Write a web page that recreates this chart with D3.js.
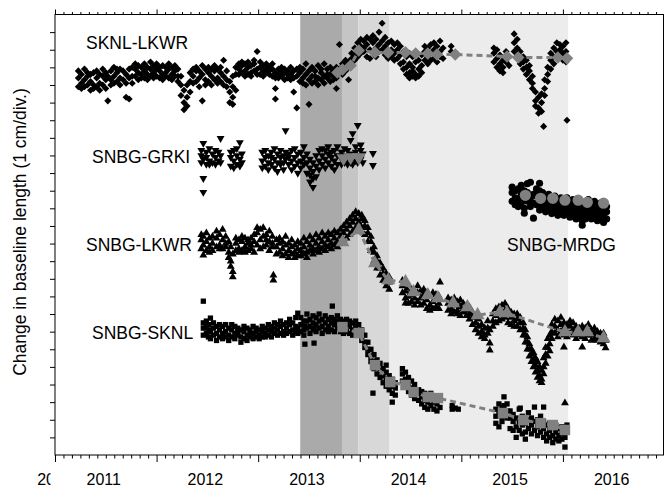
<!DOCTYPE html>
<html>
<head>
<meta charset="utf-8">
<script src="https://cdn.jsdelivr.net/npm/d3@7"></script>
<style>
  body { margin: 0; background: #fff; }
  text { font-family: "Liberation Sans", Arial, Helvetica, sans-serif; }
</style>
</head>
<body>
<script>
// baseline changes, rows are [decimal year, value(s) in cm ...]
var sknlLkwr = [
  [2011.23, 21.4, 20.9, 21.8], [2011.26, 21.6, 21.1, 20.8], [2011.29, 21.9, 21.3, 20.9], [2011.32, 21.5, 21.0, 21.7],
  [2011.35, 21.2, 20.7, 21.6], [2011.38, 21.7, 21.0, 20.8], [2011.41, 21.4, 20.9, 21.8], [2011.44, 21.1, 21.6, 20.7],
  [2011.47, 21.5, 21.0, 21.9], [2011.50, 21.3, 20.8, 21.7], [2011.52, 20.1, 21.5],
  [2011.55, 21.8, 21.3, 21.0], [2011.58, 22.0, 21.5, 21.1], [2011.61, 21.7, 21.2, 21.9], [2011.64, 21.4, 21.9, 21.0],
  [2011.67, 21.8, 21.3], [2011.70, 21.6, 21.1, 20.3], [2011.73, 21.9, 21.4, 20.2], [2011.76, 21.5, 22.0, 21.1],
  [2011.79, 21.9, 21.5, 22.2], [2011.82, 21.7, 22.1, 21.3], [2011.85, 22.0, 21.6, 21.4], [2011.88, 21.8, 22.2, 21.4],
  [2011.91, 21.6, 22.0, 21.3], [2011.94, 21.9, 21.5, 22.3], [2011.97, 21.7, 22.1, 21.4], [2012.00, 21.5, 21.9, 22.2],
  [2012.03, 21.8, 21.4, 22.0], [2012.06, 22.1, 21.6, 21.3], [2012.09, 21.7, 22.0, 21.5], [2012.12, 21.9, 21.4, 22.2],
  [2012.15, 21.6, 22.0, 21.3], [2012.18, 21.8, 21.5, 22.1], [2012.21, 21.5, 21.9, 21.2],
  [2012.24, 21.0, 20.4, 21.5], [2012.27, 20.7, 20.0, 19.6], [2012.30, 20.3, 19.8, 21.0], [2012.33, 21.2, 20.6, 21.7],
  [2012.36, 21.5, 21.9, 21.1], [2012.39, 21.8, 21.2, 22.0], [2012.42, 21.4, 21.8, 20.9], [2012.45, 21.6, 22.1, 20.1],
  [2012.48, 21.3, 21.9, 21.0], [2012.51, 21.7, 21.2, 22.0], [2012.54, 21.5, 21.0, 21.9], [2012.57, 21.8, 21.3, 22.1],
  [2012.60, 21.4, 21.9, 21.1], [2012.63, 21.7, 22.0, 21.2], [2012.66, 22.4, 21.5, 21.0], [2012.69, 21.8, 21.3, 20.9],
  [2012.72, 21.2, 20.6, 20.0], [2012.75, 20.9, 20.3, 19.9, 21.5], [2012.78, 21.6, 20.7, 22.0],
  [2012.81, 21.9, 22.2, 21.6], [2012.84, 22.1, 21.7, 22.3], [2012.87, 21.8, 22.2, 21.5], [2012.90, 22.0, 21.6, 22.3],
  [2012.93, 21.7, 22.1, 21.5], [2012.96, 22.2, 21.8, 22.4], [2012.99, 22.9, 21.9, 21.6], [2013.02, 22.0, 21.6, 22.3],
  [2013.05, 21.8, 22.1, 21.5], [2013.08, 22.2, 21.7, 21.9], [2013.11, 21.6, 22.0, 21.8], [2013.14, 21.9, 21.5, 22.2],
  [2013.17, 21.7, 20.8, 20.2, 21.4], [2013.20, 21.9, 21.4, 21.6], [2013.23, 21.5, 21.8, 22.0], [2013.26, 21.7, 21.3, 21.9],
  [2013.29, 21.4, 21.8, 21.6], [2013.32, 21.6, 22.0, 21.3], [2013.35, 21.8, 21.4, 20.6], [2013.38, 21.5, 21.9, 19.7],
  [2013.41, 21.7, 21.2, 22.0], [2013.44, 21.4, 21.9, 21.1], [2013.47, 21.6, 21.0, 22.2], [2013.50, 21.3, 21.8, 19.9],
  [2013.53, 21.5, 22.0, 21.1], [2013.56, 21.8, 21.2, 21.5], [2013.59, 21.4, 22.1, 21.0], [2013.62, 21.7, 21.3, 21.9],
  [2013.65, 21.5, 22.2, 21.1], [2013.68, 21.9, 21.4, 21.6], [2013.71, 21.6, 21.2, 22.0], [2013.74, 21.8, 21.3, 21.5],
  [2013.77, 21.4, 22.0, 20.8], [2013.80, 21.7, 21.9, 23.3],
  [2013.83, 21.9, 21.6, 22.2], [2013.86, 22.1, 21.8, 22.4], [2013.89, 22.3, 22.0, 21.3], [2013.92, 22.5, 22.2, 22.8],
  [2013.95, 22.7, 22.4, 23.1], [2013.98, 23.0, 22.6, 23.4],
  [2014.01, 23.2, 22.8, 23.6], [2014.04, 23.5, 22.9, 23.1], [2014.07, 23.3, 22.6, 23.7], [2014.10, 23.6, 23.0, 22.5],
  [2014.13, 23.4, 22.8, 23.8], [2014.16, 23.1, 23.6, 22.6], [2014.19, 24.0, 23.3, 22.9], [2014.22, 24.5, 23.5, 23.0],
  [2014.25, 23.2, 22.7, 23.7], [2014.28, 23.4, 22.9, 22.5], [2014.31, 23.0, 23.5, 22.6],
  [2014.34, 23.3, 22.8, 22.4], [2014.37, 23.0, 22.5, 23.4], [2014.40, 22.7, 23.2, 22.2], [2014.43, 22.9, 22.3, 21.9],
  [2014.46, 22.6, 22.0, 21.6], [2014.49, 22.2, 21.7, 21.4, 22.8], [2014.52, 22.0, 21.5, 21.8, 22.6], [2014.55, 22.3, 21.6, 21.4],
  [2014.58, 21.9, 22.4, 21.5], [2014.61, 22.1, 22.7, 21.7], [2014.64, 22.9, 22.4, 23.2], [2014.67, 23.1, 22.6, 22.2],
  [2014.70, 22.8, 23.3, 22.4], [2014.73, 23.0, 22.5, 23.4], [2014.76, 22.7, 23.2, 22.3], [2014.79, 22.9, 23.5, 22.6],
  [2014.82, 23.1, 22.5], [2014.90, 23.2, 22.9], [2014.95, 22.8],
  [2015.32, 22.8, 22.3, 23.1], [2015.35, 22.5, 22.0, 23.0], [2015.38, 22.2, 21.8, 22.7], [2015.41, 22.0, 21.7, 22.4],
  [2015.44, 22.3, 22.9], [2015.47, 22.6, 22.1], [2015.52, 23.9, 23.4, 22.9], [2015.55, 23.6, 23.1, 22.7],
  [2015.58, 22.6, 22.2, 22.9], [2015.61, 22.3, 21.9, 22.6], [2015.64, 22.0, 21.6, 22.4], [2015.67, 21.8, 21.3, 22.1],
  [2015.70, 21.5, 21.1, 20.8], [2015.73, 20.6, 20.1, 19.8], [2015.76, 20.3, 19.7, 19.4], [2015.79, 20.0, 19.5, 20.5],
  [2015.81, 18.65], [2015.82, 20.8, 21.3, 20.4], [2015.85, 21.6, 22.0, 21.2], [2015.88, 22.4, 22.8, 21.9],
  [2015.91, 23.1, 22.6, 22.2], [2015.94, 23.4, 22.9, 22.5], [2015.97, 23.0, 22.7, 23.3], [2016.00, 22.8, 23.2, 22.4],
  [2016.03, 23.4, 22.9, 22.3], [2016.04, 19.0]
];

var snbgGrki = [
  [2012.44, 17.0, 16.6, 17.3], [2012.46, 17.69, 16.8, 15.70, 14.91], [2012.49, 17.2, 16.5, 16.9], [2012.52, 16.7, 17.4, 16.5],
  [2012.55, 17.1, 16.6], [2012.58, 16.9, 17.3, 16.5], [2012.61, 17.2, 16.7], [2012.63, 17.97, 17.0, 16.6],
  [2012.73, 16.9, 16.4, 17.2], [2012.76, 17.3, 16.7, 16.3], [2012.79, 17.0, 16.5, 17.4], [2012.82, 17.74, 16.8, 16.4],
  [2012.84, 17.1, 16.6],
  [2013.04, 17.2, 16.7, 16.3], [2013.07, 16.9, 17.3, 16.4], [2013.10, 16.6, 17.0, 16.2], [2013.13, 17.2, 16.5, 16.9],
  [2013.16, 16.8, 17.4, 16.3], [2013.19, 17.1, 16.6, 16.1], [2013.22, 16.9, 17.3, 16.5], [2013.25, 16.6, 17.0, 16.2],
  [2013.27, 18.42, 16.8, 17.2], [2013.30, 16.5, 17.1, 16.9], [2013.33, 17.3, 16.7, 16.2], [2013.36, 16.9, 17.4, 16.4],
  [2013.39, 16.6, 17.1, 16.0],
  [2013.42, 17.2, 16.7, 16.3], [2013.45, 16.9, 17.5, 16.5], [2013.48, 16.6, 17.1, 16.0], [2013.51, 16.3, 15.9, 15.5, 16.8],
  [2013.54, 16.1, 15.7, 15.2, 16.6], [2013.57, 16.4, 15.8, 17.0], [2013.60, 16.7, 16.2, 17.3], [2013.63, 17.0, 16.5, 17.4],
  [2013.66, 16.8, 17.3, 16.3], [2013.69, 17.1, 16.6, 17.5], [2013.72, 16.9, 16.4, 17.2], [2013.75, 17.3, 16.7, 16.2],
  [2013.78, 17.0, 16.5, 17.5],
  [2013.82, 16.8, 17.2, 16.5], [2013.85, 17.0, 16.6, 17.4], [2013.88, 16.7, 17.3, 16.5], [2013.91, 17.86, 17.1, 16.6],
  [2013.93, 18.25, 16.9, 16.5], [2013.96, 17.2, 16.7, 17.5], [2013.98, 18.71, 17.0, 16.6], [2014.01, 17.3, 16.8, 17.6],
  [2014.03, 17.1, 16.6], [2014.13, 17.12, 16.44]
];

var snbgLkwr = [
  [2012.44, 12.2, 11.7, 12.5], [2012.46, 11.9, 12.4, 11.34], [2012.49, 12.1, 11.6, 12.6], [2012.52, 11.8, 12.3, 11.5],
  [2012.55, 12.0, 11.6, 12.4],
  [2012.59, 12.3, 11.8, 12.7], [2012.62, 11.9, 12.5, 11.7], [2012.65, 12.2, 11.7, 12.8], [2012.68, 11.8, 12.4, 12.0],
  [2012.71, 11.5, 11.2, 12.1], [2012.73, 11.0, 10.7, 11.8], [2012.75, 10.4, 10.1, 11.4],
  [2012.78, 12.0, 11.6, 12.3], [2012.81, 11.7, 12.2, 11.5], [2012.84, 12.1, 11.6, 12.4], [2012.87, 11.8, 12.3, 11.5],
  [2012.90, 12.0, 11.6, 12.2], [2012.93, 11.7, 12.3, 11.9], [2012.96, 12.1, 11.5, 12.5],
  [2012.99, 12.6, 11.9, 12.9], [2013.02, 12.2, 11.7, 12.8], [2013.05, 12.9, 12.4, 11.8], [2013.08, 12.5, 11.9, 12.2],
  [2013.11, 12.1, 12.7, 11.6], [2013.14, 12.4, 11.8, 12.0], [2013.15, 10.2, 9.92],
  [2013.18, 11.8, 12.2, 11.4], [2013.21, 12.0, 11.5, 12.3], [2013.24, 11.7, 12.1, 11.3], [2013.27, 11.9, 11.4, 12.4],
  [2013.30, 11.6, 12.0, 11.2], [2013.33, 11.8, 11.4, 12.2], [2013.36, 11.5, 11.9, 11.2], [2013.39, 11.7, 11.3, 12.1],
  [2013.42, 11.6, 12.0, 11.3], [2013.45, 11.8, 11.4, 12.3], [2013.48, 11.5, 12.1, 11.2], [2013.51, 11.9, 11.6, 12.4],
  [2013.54, 11.7, 12.2, 11.4], [2013.57, 12.0, 11.6, 12.5], [2013.60, 11.8, 12.3, 11.5], [2013.63, 12.1, 11.7, 12.6],
  [2013.66, 11.9, 12.4, 11.6], [2013.69, 12.2, 11.8, 12.6], [2013.72, 12.0, 12.5, 11.7], [2013.75, 12.3, 11.9, 12.7],
  [2013.78, 12.1, 12.6, 11.8],
  [2013.81, 12.4, 12.0, 12.8], [2013.84, 12.6, 12.2, 13.0], [2013.87, 12.8, 12.3, 13.2], [2013.90, 13.0, 12.5, 13.4],
  [2013.93, 13.2, 12.7, 13.6], [2013.96, 13.4, 12.9, 13.8], [2013.99, 13.7, 13.2, 12.9], [2014.02, 13.4, 12.9, 13.6],
  [2014.05, 13.0, 12.5, 13.3], [2014.08, 12.6, 12.1, 12.9], [2014.11, 12.1, 11.6, 12.4], [2014.14, 11.5, 11.0, 11.8],
  [2014.17, 11.0, 10.6, 11.3], [2014.20, 10.6, 10.2, 10.9], [2014.23, 10.3, 9.9, 10.6], [2014.26, 10.0, 9.6, 10.3],
  [2014.29, 9.8, 9.4, 10.1],
  [2014.42, 9.6, 9.2, 9.9], [2014.45, 9.3, 8.9, 9.7, 8.62], [2014.48, 9.5, 9.0, 8.6], [2014.51, 9.1, 8.7, 9.4],
  [2014.54, 8.9, 9.3, 8.5], [2014.57, 9.2, 8.7, 9.6],
  [2014.60, 8.9, 8.5, 9.3], [2014.63, 9.1, 8.6, 9.4], [2014.66, 8.8, 8.3, 9.2], [2014.69, 9.0, 8.5, 8.2],
  [2014.72, 8.7, 9.2, 8.3], [2014.75, 8.9, 8.4, 9.1], [2014.78, 8.6, 9.0, 8.3], [2014.79, 9.81],
  [2014.87, 8.6, 8.2, 8.9], [2014.90, 8.8, 8.3, 8.0], [2014.93, 8.5, 8.1, 8.9], [2014.96, 8.7, 8.2, 8.0],
  [2014.99, 8.4, 8.8, 7.9], [2015.02, 8.6, 8.1, 8.3], [2015.05, 8.2, 7.9, 8.5], [2015.08, 8.0, 7.7, 8.4],
  [2015.11, 7.8, 7.4, 8.1], [2015.14, 7.5, 7.1, 7.9], [2015.17, 7.3, 6.9, 7.7], [2015.20, 7.0, 6.7, 7.4],
  [2015.23, 6.8, 7.2, 6.6], [2015.26, 7.2, 6.9, 7.6], [2015.28, 6.35, 5.95, 7.1], [2015.31, 7.6, 7.3, 8.0],
  [2015.34, 7.9, 8.3, 7.5], [2015.37, 8.0, 7.6, 8.4], [2015.40, 8.5, 8.1, 7.7], [2015.43, 8.2, 7.8, 8.6],
  [2015.46, 8.0, 7.5, 8.3], [2015.49, 7.8, 7.4, 8.1], [2015.52, 8.0, 7.6, 7.3], [2015.55, 7.7, 7.3, 8.0],
  [2015.58, 7.5, 7.1, 7.8],
  [2015.61, 7.2, 6.8, 7.5], [2015.63, 6.8, 6.4, 7.1], [2015.65, 6.4, 6.0, 6.7], [2015.67, 6.0, 5.6, 6.3],
  [2015.69, 5.7, 5.3, 6.0], [2015.71, 5.4, 5.0, 5.8], [2015.73, 5.1, 4.7, 5.5], [2015.75, 4.8, 4.4, 5.3],
  [2015.77, 4.5, 4.2, 5.0], [2015.79, 4.3, 4.1, 4.8],
  [2015.81, 4.6, 5.0, 5.5], [2015.83, 5.2, 5.7, 6.1], [2015.85, 5.6, 6.1, 6.6], [2015.87, 6.3, 6.8, 5.9],
  [2015.89, 7.0, 6.6, 7.4], [2015.92, 7.3, 6.9, 7.7], [2015.95, 7.1, 6.7, 7.6], [2015.98, 7.4, 7.0, 7.8],
  [2016.01, 7.2, 6.8, 7.5, 6.12], [2016.02, 2.95], [2016.04, 7.0, 6.7, 7.4], [2016.07, 7.3, 6.9, 7.6],
  [2016.10, 7.1, 6.8, 7.5], [2016.13, 6.9, 7.3, 6.6], [2016.16, 7.2, 6.8], [2016.19, 7.0, 6.7, 7.3, 6.12],
  [2016.22, 6.9, 7.2, 6.6], [2016.25, 7.1, 6.8, 7.4], [2016.28, 6.8, 6.5, 7.1], [2016.31, 6.9, 6.6, 7.2],
  [2016.34, 6.8, 6.5, 7.0], [2016.37, 6.7, 6.4, 6.9], [2016.40, 6.6, 6.3, 6.9], [2016.42, 6.07, 6.5]
];

var snbgSknl = [
  [2012.46, 8.73, 7.2, 6.8, 7.5], [2012.49, 7.3, 6.9, 7.6], [2012.51, 6.7, 7.1, 7.4], [2012.53, 7.77, 7.0, 6.6],
  [2012.56, 7.2, 6.8, 7.5], [2012.59, 6.9, 7.3, 6.5], [2012.62, 7.1, 6.7, 7.4], [2012.65, 7.3, 6.9, 6.6],
  [2012.68, 7.0, 7.4, 6.7], [2012.71, 6.8, 7.2, 6.5], [2012.74, 7.1, 6.7, 7.4], [2012.77, 6.9, 7.3, 6.6],
  [2012.80, 7.2, 6.8, 7.0], [2012.83, 6.7, 7.1, 6.4], [2012.86, 7.0, 6.6, 7.3], [2012.89, 6.8, 7.2, 6.5],
  [2012.92, 7.1, 6.7, 6.9], [2012.95, 6.9, 7.3, 6.6], [2012.98, 7.0, 6.7, 7.2], [2013.01, 6.8, 7.1, 6.6],
  [2013.04, 7.0, 6.7, 7.3], [2013.07, 6.9, 7.2, 6.7], [2013.10, 7.1, 6.8, 7.4], [2013.13, 7.0, 6.7, 7.3],
  [2013.16, 6.9, 7.2, 7.5], [2013.19, 7.1, 6.8, 7.4], [2013.22, 7.3, 6.9, 7.6], [2013.25, 7.0, 7.4, 6.8],
  [2013.28, 7.2, 6.9, 7.5], [2013.31, 7.4, 7.0, 7.7], [2013.34, 7.1, 6.8, 7.5], [2013.37, 7.3, 7.0, 7.8],
  [2013.39, 8.05, 7.2, 6.9],
  [2013.42, 7.4, 7.0, 7.8], [2013.45, 7.1, 6.8, 7.6], [2013.46, 6.29, 7.3], [2013.48, 7.6, 7.2, 8.0],
  [2013.51, 7.3, 6.9, 7.7], [2013.54, 7.5, 7.1, 7.9], [2013.55, 6.35, 7.2], [2013.57, 7.4, 7.0, 7.8],
  [2013.60, 7.6, 7.2, 8.0], [2013.63, 7.3, 6.9, 7.7], [2013.66, 7.5, 7.1, 7.9], [2013.69, 7.3, 7.7, 7.0],
  [2013.72, 7.5, 7.1, 7.8], [2013.73, 8.45], [2013.75, 7.4, 7.0, 7.7], [2013.78, 7.6, 7.2, 7.9],
  [2013.81, 7.4, 7.0, 7.7], [2013.84, 7.2, 6.9, 7.6], [2013.87, 7.4, 7.0, 7.7], [2013.90, 7.3, 6.9, 7.6],
  [2013.93, 7.1, 7.5, 6.8], [2013.96, 7.3, 6.9, 7.6], [2013.99, 7.0, 6.8, 7.4],
  [2014.02, 6.8, 6.5, 7.1], [2014.05, 6.4, 6.1, 6.8], [2014.08, 6.0, 5.7, 6.4], [2014.11, 5.6, 5.3, 6.0],
  [2014.13, 3.51, 5.2], [2014.14, 5.3, 4.9, 5.7], [2014.17, 5.0, 4.6, 5.4], [2014.20, 4.8, 4.4, 5.2],
  [2014.23, 4.5, 4.1, 4.9], [2014.26, 4.3, 3.9, 4.7, 5.1], [2014.29, 4.1, 3.7, 4.5], [2014.32, 3.9, 3.5, 4.3, 3.0],
  [2014.35, 3.8, 3.4, 4.1],
  [2014.42, 4.6, 4.2, 4.9], [2014.45, 4.3, 3.9, 4.7], [2014.48, 4.0, 3.6, 4.4], [2014.51, 3.8, 3.4, 4.2],
  [2014.54, 3.6, 3.2, 4.0],
  [2014.58, 3.5, 3.1, 3.7], [2014.61, 3.3, 2.9, 3.6], [2014.64, 3.1, 2.7, 3.5], [2014.67, 3.4, 3.0, 2.6],
  [2014.70, 3.2, 2.8, 3.5], [2014.73, 3.0, 2.6, 3.3], [2014.76, 2.9, 2.5, 3.2], [2014.79, 3.1, 2.7],
  [2014.91, 2.8, 2.6], [2014.94, 2.66], [2014.97, 2.6],
  [2015.34, 2.6, 2.2, 1.8], [2015.37, 2.9, 2.4, 1.6], [2015.40, 2.7, 2.2, 1.9], [2015.42, 3.3, 2.8, 2.4],
  [2015.45, 2.9, 2.5, 2.1], [2015.48, 2.5, 2.1, 1.5],
  [2015.51, 2.3, 1.9, 1.4], [2015.54, 2.1, 1.6, 1.0], [2015.57, 1.9, 1.4, 2.6], [2015.58, 2.66],
  [2015.60, 2.2, 1.7, 1.2], [2015.63, 1.8, 1.3, 0.9], [2015.66, 2.0, 1.5, 2.4], [2015.69, 1.7, 1.2, 2.1],
  [2015.72, 1.9, 1.4, 2.72], [2015.75, 1.6, 1.1, 2.0], [2015.78, 1.8, 1.3, 2.2], [2015.81, 1.5, 1.0, 1.9, 2.72],
  [2015.84, 1.7, 1.2, 0.8], [2015.87, 1.4, 1.0, 1.8], [2015.90, 1.6, 1.1, 0.7], [2015.93, 1.3, 0.9, 1.7],
  [2015.96, 1.5, 1.1, 0.8], [2015.99, 1.2, 0.9, 1.6], [2016.02, 1.4, 0.45, 1.0], [2016.04, 1.3, 1.7]
];

var snbgMrdg = [
  [2015.50, 14.9, 14.4, 15.2], [2015.53, 14.6, 14.2, 15.0], [2015.56, 15.1, 14.5, 14.1], [2015.59, 14.8, 14.3, 15.3],
  [2015.62, 14.5, 14.0, 15.0, 13.72], [2015.65, 14.9, 14.4, 15.4], [2015.68, 14.6, 14.1, 15.48], [2015.71, 14.3, 14.8, 13.44],
  [2015.74, 14.7, 14.2, 15.1], [2015.77, 14.4, 13.9, 15.0, 15.42], [2015.80, 14.6, 14.1, 14.9], [2015.83, 14.3, 13.8, 14.7],
  [2015.86, 14.5, 14.0, 14.8], [2015.89, 14.2, 13.7, 14.6], [2015.92, 14.4, 13.9, 14.7], [2015.95, 14.1, 13.6, 14.5],
  [2015.98, 14.3, 13.8, 14.6], [2016.01, 14.0, 13.6, 14.5], [2016.04, 14.2, 13.7, 14.6], [2016.07, 13.9, 13.5, 14.4],
  [2016.10, 14.1, 13.6, 14.5], [2016.13, 13.8, 13.4, 14.3], [2016.16, 14.0, 13.5, 14.4], [2016.19, 13.7, 13.3, 14.2, 13.04],
  [2016.22, 13.9, 13.4, 14.3], [2016.25, 14.1, 13.6, 14.5], [2016.28, 13.8, 13.4, 14.2], [2016.31, 14.0, 13.5, 14.4],
  [2016.34, 13.7, 13.3, 14.1], [2016.37, 13.9, 13.4, 14.3], [2016.40, 13.6, 13.2, 14.0], [2016.43, 13.8, 13.4, 14.1]
];

// averaged values (grey symbols + dashed line)
var sknlLkwrAvg = [[2013.78, 21.71], [2013.83, 21.88], [2013.91, 22.11], [2013.99, 22.96], [2014.15, 22.85], [2014.28, 22.85],
  [2014.45, 22.85], [2014.55, 22.79], [2014.67, 22.79], [2014.76, 22.73], [2014.94, 22.73], [2015.45, 22.62],
  [2015.56, 22.56], [2015.95, 22.56], [2016.04, 22.51]];
var snbgGrkiAvg = [[2013.84, 16.84], [2013.91, 16.9], [2013.99, 16.89]];
var snbgLkwrAvg = [[2013.83, 12.07], [2013.99, 12.76], [2014.15, 10.88], [2014.28, 9.92], [2014.45, 9.81], [2014.53, 9.24],
  [2014.67, 9.07], [2014.77, 8.90], [2014.92, 8.62], [2015.06, 8.39], [2015.16, 7.94], [2015.38, 8.11], [2015.45, 8.05],
  [2016.02, 6.97], [2016.15, 6.97], [2016.24, 6.97], [2016.40, 6.63]];
var snbgSknlAvg = [[2013.83, 7.26], [2013.99, 6.92], [2014.15, 5.10], [2014.30, 4.14], [2014.45, 3.97], [2014.53, 3.57],
  [2014.67, 3.29], [2014.77, 3.23], [2015.41, 2.38], [2015.61, 1.98], [2015.78, 1.81], [2015.90, 1.70], [2016.02, 1.42]];
var snbgMrdgAvg = [[2015.63, 14.74], [2015.78, 14.57], [2015.90, 14.57], [2016.02, 14.46], [2016.15, 14.46], [2016.24, 14.34], [2016.40, 14.29]];

// shaded time windows (edges in decimal years)
var bandEdges = [2013.414, 2013.825, 2013.988, 2014.294, 2016.051];
var bandColors = ["#aaaaaa", "#c5c5c5", "#d8d8d8", "#ececec"];

var yearLabels = [2011, 2012, 2013, 2014, 2015, 2016];

// margins
var margin = {top: 14.5, right: 1.5, bottom: 31, left: 55};
var width = 665 - margin.left - margin.right,
    height = 486 - margin.top - margin.bottom;

var svg = d3.select("body").append("svg")
  .attr("width", 665)
  .attr("height", 486);

var plot = svg.append("g")
  .attr("transform", "translate(" + margin.left + "," + margin.top + ")");

var xScale = d3.scaleLinear().domain([2011, 2017]).range([0, 609.5]);
var yScale = d3.scaleLinear().domain([0, 25]).range([height, 0]);

// background bands
for (var i = 0; i < bandColors.length; i++) {
  plot.append("rect")
    .attr("x", xScale(bandEdges[i]))
    .attr("y", 0)
    .attr("width", xScale(bandEdges[i + 1]) - xScale(bandEdges[i]))
    .attr("height", height)
    .attr("fill", bandColors[i]);
}

// flatten rows -> points
function flat(rows) {
  var out = [];
  rows.forEach(function(r) {
    r.slice(1).forEach(function(v) { out.push({t: r[0], v: v}); });
  });
  return out;
}

var series = [
  {rows: sknlLkwr, avg: sknlLkwrAvg, type: d3.symbolDiamond2, small: 32, big: 100, rot: 0, line: true},
  {rows: snbgGrki, avg: snbgGrkiAvg, type: d3.symbolTriangle, small: 27, big: 85, rot: 180, line: true},
  {rows: snbgLkwr, avg: snbgLkwrAvg, type: d3.symbolTriangle, small: 27, big: 85, rot: 0, line: true},
  {rows: snbgSknl, avg: snbgSknlAvg, type: d3.symbolSquare, small: 28, big: 110, rot: 0, line: true},
  {rows: snbgMrdg, avg: snbgMrdgAvg, type: d3.symbolCircle, small: 40, big: 100, rot: 0, line: false}
];

// black observations
series.forEach(function(s) {
  plot.append("g").selectAll("path")
    .data(flat(s.rows))
    .enter().append("path")
    .attr("d", d3.symbol().type(s.type).size(s.small))
    .attr("transform", function(d) {
      return "translate(" + xScale(d.t) + "," + yScale(d.v) + ") rotate(" + s.rot + ")";
    })
    .attr("fill", "#000");
});

// grey averages with dashed connecting line
var avgLine = d3.line()
  .x(function(d) { return xScale(d[0]); })
  .y(function(d) { return yScale(d[1]); });

series.forEach(function(s) {
  if (s.line) {
    plot.append("path")
      .datum(s.avg)
      .attr("d", avgLine)
      .attr("fill", "none")
      .attr("stroke", "#808080")
      .attr("stroke-width", 3)
      .attr("stroke-dasharray", "6,4");
  }
  plot.append("g").selectAll("path")
    .data(s.avg)
    .enter().append("path")
    .attr("d", d3.symbol().type(s.type).size(s.big))
    .attr("transform", function(d) {
      return "translate(" + xScale(d[0]) + "," + yScale(d[1]) + ") rotate(" + s.rot + ")";
    })
    .attr("fill", "#808080");
});

// frame
plot.append("rect")
  .attr("x", 0).attr("y", 0)
  .attr("width", width).attr("height", height)
  .attr("fill", "none")
  .attr("stroke", "#000")
  .attr("stroke-width", 1);

// ticks: years major, months minor
var majorT = d3.range(2011, 2017);
var minorT = d3.range(0, 72).filter(function(m) { return m % 12 != 0; }).map(function(m) { return 2011 + m / 12; });

function tickAxis(axis, vals, size, ty) {
  var g = plot.append("g")
    .attr("transform", "translate(0," + ty + ")")
    .call(axis(xScale).tickValues(vals).tickSize(size).tickFormat(""));
  g.select(".domain").remove();
  g.selectAll("line").attr("stroke", "#000");
}
tickAxis(d3.axisBottom, majorT, 7, height);
tickAxis(d3.axisBottom, minorT, 3.5, height);
tickAxis(d3.axisTop, majorT, 5, 0);
tickAxis(d3.axisTop, minorT, 2.5, 0);

var yAxis = plot.append("g")
  .call(d3.axisLeft(yScale).tickValues(d3.range(1, 25)).tickSize(5).tickFormat(""));
yAxis.select(".domain").remove();
yAxis.selectAll("line").attr("stroke", "#000");

// year labels sit in the middle of each year
plot.append("g").selectAll("text")
  .data(yearLabels)
  .enter().append("text")
  .attr("x", function(d) { return xScale(d + 0.48); })
  .attr("y", height + 29.5)
  .attr("text-anchor", "middle")
  .style("font-size", "16px")
  .text(function(d) { return d; });

// cut-off label at the left edge
svg.append("clipPath").attr("id", "cut")
  .append("rect").attr("x", 0).attr("y", 440).attr("width", 50.5).attr("height", 46);
svg.append("text")
  .attr("clip-path", "url(#cut)")
  .attr("x", margin.left + xScale(2011))
  .attr("y", margin.top + height + 29.5)
  .attr("text-anchor", "middle")
  .style("font-size", "16px")
  .text(2010);

// baseline names
var names = [
  {name: "SKNL-LKWR", x: 86, y: 49},
  {name: "SNBG-GRKI", x: 92, y: 163},
  {name: "SNBG-LKWR", x: 86, y: 251},
  {name: "SNBG-SKNL", x: 92, y: 339},
  {name: "SNBG-MRDG", x: 507, y: 251}
];
svg.selectAll(".name")
  .data(names)
  .enter().append("text")
  .attr("class", "name")
  .attr("x", function(d) { return d.x; })
  .attr("y", function(d) { return d.y; })
  .style("font-size", "17.5px")
  .text(function(d) { return d.name; });

// y axis title
svg.append("text")
  .attr("transform", "translate(25.5,232) rotate(-90)")
  .attr("text-anchor", "middle")
  .style("font-size", "17.5px")
  .text("Change in baseline length (1 cm/div.)");
</script>
</body>
</html>
